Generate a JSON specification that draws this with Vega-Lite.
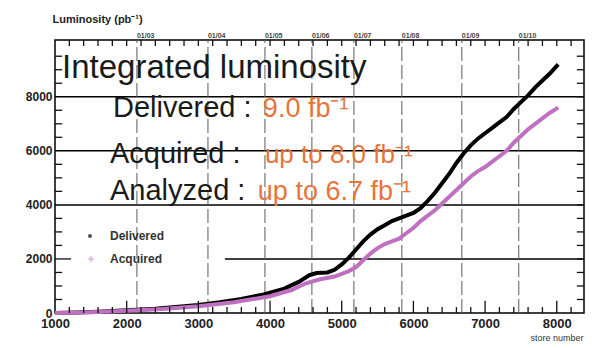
{
  "$schema": "https://vega.github.io/schema/vega-lite/v6.json",
  "width": 529,
  "height": 273,
  "autosize": "none",
  "padding": {"left": 55, "top": 40, "right": 11, "bottom": 35},
  "background": "white",
  "config": {
    "view": {"stroke": "black", "strokeWidth": 1.5},
    "font": "Liberation Sans",
    "axis": {"grid": false, "domain": false}
  },
  "datasets": {
    "one": [{}],
    "lumi": [
      {"store": 1000, "lum": 0, "series": "Delivered"},
      {"store": 1300, "lum": 20, "series": "Delivered"},
      {"store": 1600, "lum": 50, "series": "Delivered"},
      {"store": 2000, "lum": 100, "series": "Delivered"},
      {"store": 2400, "lum": 160, "series": "Delivered"},
      {"store": 2800, "lum": 250, "series": "Delivered"},
      {"store": 3000, "lum": 300, "series": "Delivered"},
      {"store": 3300, "lum": 400, "series": "Delivered"},
      {"store": 3600, "lum": 520, "series": "Delivered"},
      {"store": 3900, "lum": 680, "series": "Delivered"},
      {"store": 4000, "lum": 750, "series": "Delivered"},
      {"store": 4200, "lum": 900, "series": "Delivered"},
      {"store": 4400, "lum": 1150, "series": "Delivered"},
      {"store": 4550, "lum": 1400, "series": "Delivered"},
      {"store": 4650, "lum": 1480, "series": "Delivered"},
      {"store": 4800, "lum": 1500, "series": "Delivered"},
      {"store": 4900, "lum": 1600, "series": "Delivered"},
      {"store": 5000, "lum": 1800, "series": "Delivered"},
      {"store": 5100, "lum": 2050, "series": "Delivered"},
      {"store": 5200, "lum": 2350, "series": "Delivered"},
      {"store": 5300, "lum": 2650, "series": "Delivered"},
      {"store": 5400, "lum": 2900, "series": "Delivered"},
      {"store": 5500, "lum": 3100, "series": "Delivered"},
      {"store": 5600, "lum": 3250, "series": "Delivered"},
      {"store": 5700, "lum": 3400, "series": "Delivered"},
      {"store": 5800, "lum": 3500, "series": "Delivered"},
      {"store": 5900, "lum": 3600, "series": "Delivered"},
      {"store": 6000, "lum": 3700, "series": "Delivered"},
      {"store": 6100, "lum": 3880, "series": "Delivered"},
      {"store": 6200, "lum": 4150, "series": "Delivered"},
      {"store": 6300, "lum": 4450, "series": "Delivered"},
      {"store": 6400, "lum": 4800, "series": "Delivered"},
      {"store": 6500, "lum": 5150, "series": "Delivered"},
      {"store": 6600, "lum": 5550, "series": "Delivered"},
      {"store": 6700, "lum": 5900, "series": "Delivered"},
      {"store": 6800, "lum": 6200, "series": "Delivered"},
      {"store": 6900, "lum": 6450, "series": "Delivered"},
      {"store": 7000, "lum": 6650, "series": "Delivered"},
      {"store": 7100, "lum": 6850, "series": "Delivered"},
      {"store": 7200, "lum": 7050, "series": "Delivered"},
      {"store": 7300, "lum": 7250, "series": "Delivered"},
      {"store": 7400, "lum": 7550, "series": "Delivered"},
      {"store": 7500, "lum": 7800, "series": "Delivered"},
      {"store": 7600, "lum": 8050, "series": "Delivered"},
      {"store": 7700, "lum": 8350, "series": "Delivered"},
      {"store": 7800, "lum": 8600, "series": "Delivered"},
      {"store": 7900, "lum": 8850, "series": "Delivered"},
      {"store": 8020, "lum": 9200, "series": "Delivered"},
      {"store": 1000, "lum": 0, "series": "Acquired"},
      {"store": 1500, "lum": 30, "series": "Acquired"},
      {"store": 2000, "lum": 80, "series": "Acquired"},
      {"store": 2500, "lum": 150, "series": "Acquired"},
      {"store": 3000, "lum": 250, "series": "Acquired"},
      {"store": 3500, "lum": 400, "series": "Acquired"},
      {"store": 4000, "lum": 620, "series": "Acquired"},
      {"store": 4300, "lum": 850, "series": "Acquired"},
      {"store": 4500, "lum": 1100, "series": "Acquired"},
      {"store": 4700, "lum": 1250, "series": "Acquired"},
      {"store": 4900, "lum": 1350, "series": "Acquired"},
      {"store": 5100, "lum": 1550, "series": "Acquired"},
      {"store": 5200, "lum": 1700, "series": "Acquired"},
      {"store": 5300, "lum": 1950, "series": "Acquired"},
      {"store": 5400, "lum": 2200, "series": "Acquired"},
      {"store": 5500, "lum": 2400, "series": "Acquired"},
      {"store": 5600, "lum": 2550, "series": "Acquired"},
      {"store": 5700, "lum": 2650, "series": "Acquired"},
      {"store": 5800, "lum": 2750, "series": "Acquired"},
      {"store": 5900, "lum": 2950, "series": "Acquired"},
      {"store": 6000, "lum": 3150, "series": "Acquired"},
      {"store": 6100, "lum": 3400, "series": "Acquired"},
      {"store": 6200, "lum": 3600, "series": "Acquired"},
      {"store": 6300, "lum": 3800, "series": "Acquired"},
      {"store": 6400, "lum": 4050, "series": "Acquired"},
      {"store": 6500, "lum": 4300, "series": "Acquired"},
      {"store": 6600, "lum": 4550, "series": "Acquired"},
      {"store": 6700, "lum": 4800, "series": "Acquired"},
      {"store": 6800, "lum": 5050, "series": "Acquired"},
      {"store": 6900, "lum": 5250, "series": "Acquired"},
      {"store": 7000, "lum": 5400, "series": "Acquired"},
      {"store": 7100, "lum": 5600, "series": "Acquired"},
      {"store": 7200, "lum": 5800, "series": "Acquired"},
      {"store": 7300, "lum": 6000, "series": "Acquired"},
      {"store": 7400, "lum": 6300, "series": "Acquired"},
      {"store": 7500, "lum": 6550, "series": "Acquired"},
      {"store": 7600, "lum": 6800, "series": "Acquired"},
      {"store": 7700, "lum": 7000, "series": "Acquired"},
      {"store": 7800, "lum": 7200, "series": "Acquired"},
      {"store": 7900, "lum": 7400, "series": "Acquired"},
      {"store": 8020, "lum": 7600, "series": "Acquired"}
    ],
    "hgrid": [
      {"lum": 2000, "from": 3370, "to": 8380},
      {"lum": 4000, "from": 1000, "to": 8380},
      {"lum": 6000, "from": 1000, "to": 8380},
      {"lum": 8000, "from": 1000, "to": 8380}
    ],
    "dates": [
      {"store": 2143, "label": "01/03"},
      {"store": 3134, "label": "01/04"},
      {"store": 3929, "label": "01/05"},
      {"store": 4584, "label": "01/06"},
      {"store": 5170, "label": "01/07"},
      {"store": 5839, "label": "01/08"},
      {"store": 6676, "label": "01/09"},
      {"store": 7470, "label": "01/10"}
    ]
  },
  "layer": [
    {
      "data": {"name": "hgrid"},
      "mark": {"type": "rule", "color": "black", "strokeWidth": 1.5},
      "encoding": {
        "y": {"field": "lum", "type": "quantitative",
          "scale": {"domain": [0, 10100], "nice": false, "zero": false},
          "axis": {"orient": "left", "values": [0,2000,4000,6000,8000], "format": "d", "ticks": false, "labelPadding": 3, "labelFontSize": 12, "labelFontWeight": "bold", "labelColor": "#222",
            "title": "Luminosity (pb⁻¹)", "titleAngle": 0, "titleX": -3, "titleY": -18, "titleAlign": "left", "titleBaseline": "alphabetic", "titleFontSize": 11, "titleFontWeight": "bold", "titleColor": "#222"}},
        "x": {"field": "from", "type": "quantitative",
          "scale": {"domain": [1000, 8380], "nice": false, "zero": false},
          "axis": {"orient": "bottom", "values": [1000,2000,3000,4000,5000,6000,7000,8000], "format": "d", "ticks": false, "labelPadding": 4, "labelFlush": false, "labelFontSize": 13, "labelFontWeight": "bold", "labelColor": "#222",
            "title": "store number", "titleX": 528, "titleY": 27, "titleAlign": "right", "titleBaseline": "alphabetic", "titleFontSize": 9, "titleFontWeight": "normal", "titleColor": "#333"}},
        "x2": {"field": "to"}
      }
    },
    {
      "data": {"name": "dates"},
      "mark": {"type": "rule", "color": "#5a5a5a", "strokeWidth": 1, "strokeDash": [14, 4]},
      "encoding": {
        "x": {"field": "store", "type": "quantitative"},
        "y": {"datum": 0, "type": "quantitative"},
        "y2": {"datum": 10100}
      }
    },
    {
      "data": {"name": "dates"},
      "mark": {"type": "text", "align": "left", "baseline": "bottom", "dy": -1, "fontSize": 7, "fontWeight": "bold", "color": "#444"},
      "encoding": {
        "x": {"field": "store", "type": "quantitative"},
        "y": {"datum": 10100, "type": "quantitative"},
        "text": {"field": "label"}
      }
    },
    {
      "data": {"name": "lumi"},
      "transform": [{"filter": "datum.series === 'Delivered'"}],
      "mark": {"type": "line", "color": "black", "strokeWidth": 4},
      "encoding": {
        "x": {"field": "store", "type": "quantitative"},
        "y": {"field": "lum", "type": "quantitative"}
      }
    },
    {
      "data": {"name": "lumi"},
      "transform": [{"filter": "datum.series === 'Acquired'"}],
      "mark": {"type": "line", "color": "#c070c0", "strokeWidth": 4},
      "encoding": {
        "x": {"field": "store", "type": "quantitative"},
        "y": {"field": "lum", "type": "quantitative"}
      }
    },
    {
      "data": {"values": [{"tv": 500}, {"tv": 1000}, {"tv": 1500}, {"tv": 2500}, {"tv": 3000}, {"tv": 3500}, {"tv": 4500}, {"tv": 5000}, {"tv": 5500}, {"tv": 6500}, {"tv": 7000}, {"tv": 7500}, {"tv": 8500}, {"tv": 9000}, {"tv": 9500}]},
      "mark": {"type": "rule", "color": "#111111", "strokeWidth": 1.3},
      "encoding": {
        "y": {"field": "tv", "type": "quantitative"},
        "x": {"datum": 1000, "type": "quantitative"},
        "x2": {"datum": 1100}
      }
    },
    {
      "data": {"values": [{"tv": 500}, {"tv": 1000}, {"tv": 1500}, {"tv": 2000}, {"tv": 2500}, {"tv": 3000}, {"tv": 3500}, {"tv": 4000}, {"tv": 4500}, {"tv": 5000}, {"tv": 5500}, {"tv": 6000}, {"tv": 6500}, {"tv": 7000}, {"tv": 7500}, {"tv": 8000}, {"tv": 8500}, {"tv": 9000}, {"tv": 9500}]},
      "mark": {"type": "rule", "color": "#111111", "strokeWidth": 1.3},
      "encoding": {
        "y": {"field": "tv", "type": "quantitative"},
        "x": {"datum": 8280, "type": "quantitative"},
        "x2": {"datum": 8380}
      }
    },
    {
      "data": {"values": [{"tv": 2000}]},
      "mark": {"type": "rule", "color": "#111111", "strokeWidth": 1.3},
      "encoding": {
        "y": {"field": "tv", "type": "quantitative"},
        "x": {"datum": 1000, "type": "quantitative"},
        "x2": {"datum": 1225}
      }
    },
    {
      "data": {"values": [{"tv": 1200}, {"tv": 1400}, {"tv": 1600}, {"tv": 1800}, {"tv": 2200}, {"tv": 2400}, {"tv": 2600}, {"tv": 2800}, {"tv": 3200}, {"tv": 3400}, {"tv": 3600}, {"tv": 3800}, {"tv": 4200}, {"tv": 4400}, {"tv": 4600}, {"tv": 4800}, {"tv": 5200}, {"tv": 5400}, {"tv": 5600}, {"tv": 5800}, {"tv": 6200}, {"tv": 6400}, {"tv": 6600}, {"tv": 6800}, {"tv": 7200}, {"tv": 7400}, {"tv": 7600}, {"tv": 7800}, {"tv": 8200}]},
      "mark": {"type": "rule", "color": "#111111", "strokeWidth": 1.3},
      "encoding": {
        "x": {"field": "tv", "type": "quantitative"},
        "y": {"datum": 0, "type": "quantitative"},
        "y2": {"datum": 220}
      }
    },
    {
      "data": {"values": [{"tv": 2000}, {"tv": 3000}, {"tv": 4000}, {"tv": 5000}, {"tv": 6000}, {"tv": 7000}, {"tv": 8000}]},
      "mark": {"type": "rule", "color": "#111111", "strokeWidth": 1.3},
      "encoding": {
        "x": {"field": "tv", "type": "quantitative"},
        "y": {"datum": 0, "type": "quantitative"},
        "y2": {"datum": 450}
      }
    },
    {
      "data": {"values": [{"tv": 1200}, {"tv": 1400}, {"tv": 1600}, {"tv": 1800}, {"tv": 2000}, {"tv": 2200}, {"tv": 2400}, {"tv": 2600}, {"tv": 2800}, {"tv": 3000}, {"tv": 3200}, {"tv": 3400}, {"tv": 3600}, {"tv": 3800}, {"tv": 4000}, {"tv": 4200}, {"tv": 4400}, {"tv": 4600}, {"tv": 4800}, {"tv": 5000}, {"tv": 5200}, {"tv": 5400}, {"tv": 5600}, {"tv": 5800}, {"tv": 6000}, {"tv": 6200}, {"tv": 6400}, {"tv": 6600}, {"tv": 6800}, {"tv": 7000}, {"tv": 7200}, {"tv": 7400}, {"tv": 7600}, {"tv": 7800}, {"tv": 8000}, {"tv": 8200}]},
      "mark": {"type": "rule", "color": "#111111", "strokeWidth": 1.3},
      "encoding": {
        "x": {"field": "tv", "type": "quantitative"},
        "y": {"datum": 9880, "type": "quantitative"},
        "y2": {"datum": 10100}
      }
    },
    {
      "data": {"name": "one"},
      "mark": {"type": "text", "align": "left", "baseline": "alphabetic", "fontSize": 33, "color": "#1a1a1a", "text": "Integrated luminosity"},
      "encoding": {
        "x": {"datum": 1098, "type": "quantitative"},
        "y": {"datum": 8694, "type": "quantitative"}
      }
    },
    {
      "data": {"name": "one"},
      "mark": {"type": "text", "align": "left", "baseline": "alphabetic", "fontSize": 29, "color": "#1a1a1a", "text": "Delivered :"},
      "encoding": {
        "x": {"datum": 1809, "type": "quantitative"},
        "y": {"datum": 7251, "type": "quantitative"}
      }
    },
    {
      "data": {"name": "one"},
      "mark": {"type": "text", "align": "left", "baseline": "alphabetic", "fontSize": 29, "color": "#1a1a1a", "text": "Acquired :"},
      "encoding": {
        "x": {"datum": 1767, "type": "quantitative"},
        "y": {"datum": 5549, "type": "quantitative"}
      }
    },
    {
      "data": {"name": "one"},
      "mark": {"type": "text", "align": "left", "baseline": "alphabetic", "fontSize": 29, "color": "#1a1a1a", "text": "Analyzed :"},
      "encoding": {
        "x": {"datum": 1767, "type": "quantitative"},
        "y": {"datum": 4181, "type": "quantitative"}
      }
    },
    {
      "data": {"name": "one"},
      "mark": {"type": "text", "align": "left", "baseline": "alphabetic", "fontSize": 27, "color": "#e8743b", "text": "9.0 fb⁻¹"},
      "encoding": {
        "x": {"datum": 3900, "type": "quantitative"},
        "y": {"datum": 7251, "type": "quantitative"}
      }
    },
    {
      "data": {"name": "one"},
      "mark": {"type": "text", "align": "left", "baseline": "alphabetic", "fontSize": 26, "color": "#e8743b", "text": "up to 8.0 fb⁻¹"},
      "encoding": {
        "x": {"datum": 3928, "type": "quantitative"},
        "y": {"datum": 5549, "type": "quantitative"}
      }
    },
    {
      "data": {"name": "one"},
      "mark": {"type": "text", "align": "left", "baseline": "alphabetic", "fontSize": 27, "color": "#e8743b", "text": "up to 6.7 fb⁻¹"},
      "encoding": {
        "x": {"datum": 3830, "type": "quantitative"},
        "y": {"datum": 4181, "type": "quantitative"}
      }
    },
    {
      "data": {"name": "one"},
      "mark": {"type": "point", "shape": "circle", "filled": true, "size": 16, "color": "black"},
      "encoding": {
        "x": {"datum": 1488, "type": "quantitative"},
        "y": {"datum": 2849, "type": "quantitative"}
      }
    },
    {
      "data": {"name": "one"},
      "mark": {"type": "point", "shape": "cross", "filled": true, "size": 30, "color": "#d9a3d9"},
      "encoding": {
        "x": {"datum": 1502, "type": "quantitative"},
        "y": {"datum": 1998, "type": "quantitative"}
      }
    },
    {
      "data": {"name": "one"},
      "mark": {"type": "text", "align": "left", "baseline": "middle", "fontSize": 12, "fontWeight": "bold", "color": "#333", "text": "Delivered"},
      "encoding": {
        "x": {"datum": 1767, "type": "quantitative"},
        "y": {"datum": 2849, "type": "quantitative"}
      }
    },
    {
      "data": {"name": "one"},
      "mark": {"type": "text", "align": "left", "baseline": "middle", "fontSize": 12, "fontWeight": "bold", "color": "#333", "text": "Acquired"},
      "encoding": {
        "x": {"datum": 1767, "type": "quantitative"},
        "y": {"datum": 1998, "type": "quantitative"}
      }
    }
  ]
}
